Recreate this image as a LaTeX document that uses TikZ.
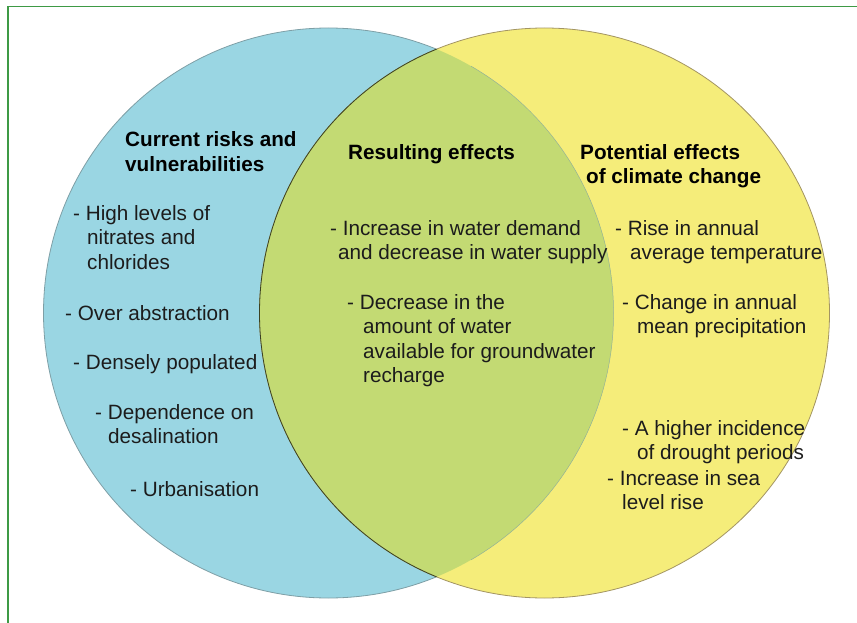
\documentclass[tikz,border=0pt]{standalone}
\usepackage{fontspec}
\setmainfont{Liberation Sans}
\begin{document}
\definecolor{riskblue}{HTML}{9AD6E3}
\definecolor{climyellow}{HTML}{F5ED7A}
\definecolor{overlapgreen}{HTML}{C3DA73}
\definecolor{blueedge}{HTML}{7E9FA6}
\definecolor{yellowedge}{HTML}{A39563}
\definecolor{framegreen}{HTML}{3E9A45}
\definecolor{inktext}{HTML}{1C1C1C}
% multi-line nodes sit on the baseline of their last line
\begin{tikzpicture}[x=1pt,y=-1pt,
  heading/.style={anchor=base west,inner sep=0pt,align=left,
    font=\fontsize{20.7}{24.5}\selectfont\bfseries,text=black},
  item/.style={anchor=base west,inner sep=0pt,align=left,
    font=\fontsize{20.7}{24.5}\selectfont,text=inktext}]
\useasboundingbox (0,0) rectangle (857,623);
% partial frame along top and left edges
\draw[framegreen,line width=1.4pt] (8,623) -- (8,6.5) -- (857,6.5);
% the two sets
\filldraw[fill=riskblue,draw=blueedge,line width=0.8pt] (328.5,313) circle[radius=285];
\filldraw[fill=climyellow,draw=yellowedge,line width=0.8pt] (544.5,313) circle[radius=285];
\begin{scope}
  \clip (328.5,313) circle[radius=285];
  \fill[overlapgreen] (544.5,313) circle[radius=285];
\end{scope}
\draw[draw=blueedge!70!overlapgreen,line width=0.5pt] (328.5,313) ++(-60:285) arc[start angle=-60,end angle=60,radius=285];
\begin{scope}
  \clip (328.5,313) circle[radius=285];
  \draw[draw=black!70!overlapgreen,line width=0.8pt] (544.5,313) circle[radius=285];
\end{scope}

% headings
\node[heading] (hrisk) at (125,171.5) {Current risks and\\vulnerabilities};
\node[heading] (heffect) at (348,160) {Resulting effects};
\node[heading] (hclimate) at (580,183.5) {Potential effects\\\hspace*{6pt}of climate change};

% current risks
\node[item] (r1) at (73,269) {- High levels of\\\hspace*{14pt}nitrates and\\\hspace*{14pt}chlorides};
\node[item] (r2) at (65,320) {- Over abstraction};
\node[item] (r3) at (73,369) {- Densely populated};
\node[item] (r4) at (95,443.5) {- Dependence on\\\hspace*{13pt}desalination};
\node[item] (r5) at (130,496) {- Urbanisation};

% resulting effects
\node[item] (e1) at (330,259.5) {- Increase in water demand\\\hspace*{8pt}and decrease in water supply};
\node[item] (e2) at (347,382.5) {- Decrease in the\\\hspace*{16pt}amount of water\\\hspace*{16pt}available for groundwater\\\hspace*{16pt}recharge};

% climate change
\node[item] (c1) at (615,259.5) {- Rise in annual\\\hspace*{15pt}average temperature};
\node[item] (c2) at (622,333.5) {- Change in annual\\\hspace*{15pt}mean precipitation};
\node[item] (c3) at (622,459.5) {- A higher incidence\\\hspace*{15pt}of drought periods};
\node[item] (c4) at (607,509.5) {- Increase in sea\\\hspace*{15pt}level rise};
\end{tikzpicture}
\end{document}
